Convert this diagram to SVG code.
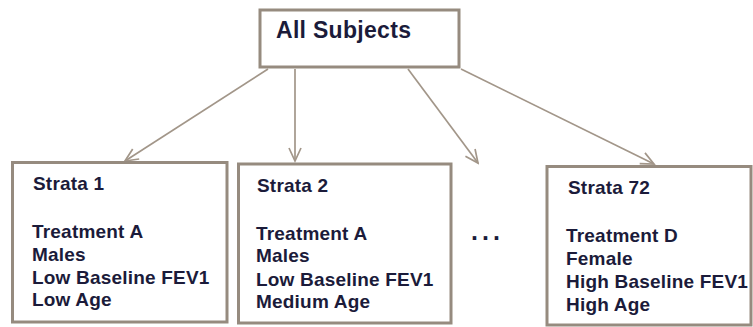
<svg xmlns="http://www.w3.org/2000/svg" width="753" height="327" viewBox="0 0 753 327">
  <style>
    .box { fill: #ffffff; stroke: #968b7f; stroke-width: 3; }
    .link { fill: none; stroke: #a29689; stroke-width: 1.7; marker-end: url(#open-arrow); }
    .title { font-family: "Liberation Sans", Arial, sans-serif; font-weight: bold; font-size: 23px; fill: #1b1b3a; letter-spacing: 0.3px; }
    .label { font-family: "Liberation Sans", Arial, sans-serif; font-weight: bold; font-size: 19px; fill: #1b1b3a; letter-spacing: 0.2px; }
    .dots { font-family: "Liberation Sans", Arial, sans-serif; font-weight: bold; font-size: 25px; fill: #1b1b3a; letter-spacing: 4px; }
  </style>
  <defs>
    <marker id="open-arrow" markerUnits="userSpaceOnUse" viewBox="-15 -8 17 16" refX="0" refY="0" markerWidth="17" markerHeight="16" orient="auto">
      <path d="M -13 -6 L 0 0 L -13 6" fill="none" stroke="#a29689" stroke-width="1.7"/>
    </marker>
  </defs>

  <rect width="753" height="327" fill="#ffffff"/>

  <!-- connectors from the root to each stratum -->
  <g id="connectors">
    <line class="link" x1="268" y1="69" x2="125" y2="161"/>
    <line class="link" x1="295" y1="69" x2="295" y2="161"/>
    <line class="link" x1="408" y1="69" x2="478" y2="163"/>
    <line class="link" x1="461" y1="69" x2="654" y2="164"/>
  </g>

  <g id="all-subjects">
    <rect class="box" x="260" y="10" width="199" height="57"/>
    <text class="title" x="276" y="38">All Subjects</text>
  </g>

  <g id="strata-1">
    <rect class="box" x="12.5" y="162.5" width="214.5" height="159.5"/>
    <text class="label" x="33" y="190">Strata 1</text>
    <text class="label" x="32" y="238">Treatment A</text>
    <text class="label" x="32" y="260.5">Males</text>
    <text class="label" x="32" y="283.5">Low Baseline FEV1</text>
    <text class="label" x="32" y="306">Low Age</text>
  </g>

  <g id="strata-2">
    <rect class="box" x="238.5" y="164" width="212.5" height="159"/>
    <text class="label" x="257" y="191.5">Strata 2</text>
    <text class="label" x="256" y="240">Treatment A</text>
    <text class="label" x="256" y="262">Males</text>
    <text class="label" x="256" y="286">Low Baseline FEV1</text>
    <text class="label" x="256" y="308">Medium Age</text>
  </g>

  <g id="ellipsis">
    <text class="dots" x="471" y="240">...</text>
  </g>

  <g id="strata-72">
    <rect class="box" x="547" y="166.5" width="204" height="158.5"/>
    <text class="label" x="568" y="194">Strata 72</text>
    <text class="label" x="566" y="241.5">Treatment D</text>
    <text class="label" x="566" y="264.5">Female</text>
    <text class="label" x="566" y="288">High Baseline FEV1</text>
    <text class="label" x="566" y="311">High Age</text>
  </g>
</svg>
